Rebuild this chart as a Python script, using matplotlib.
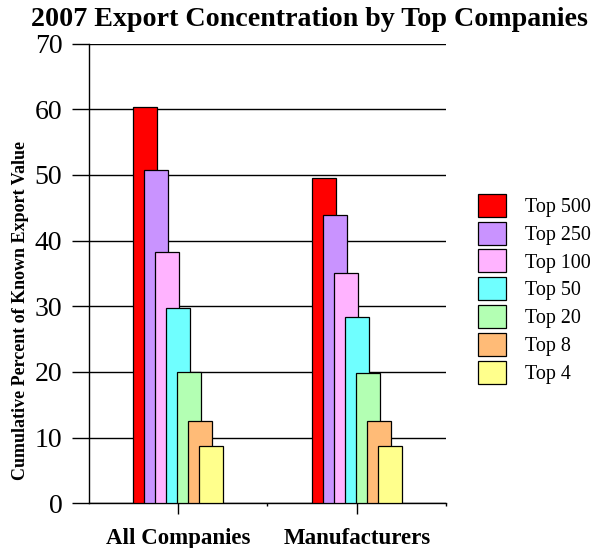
import matplotlib
matplotlib.use("Agg")
import matplotlib.pyplot as plt
import numpy as np

categories = ["All Companies", "Manufacturers"]
series = ["Top 500", "Top 250", "Top 100", "Top 50", "Top 20", "Top 8", "Top 4"]
all_companies = [60.3, 50.7, 38.3, 29.8, 20.0, 12.6, 8.7]
manufacturers = [49.6, 43.9, 35.1, 28.3, 19.8, 12.6, 8.7]
colors = ["#FF0000", "#C993FF", "#FFB3FF", "#6FFFFF", "#B3FFB3", "#FFBB77", "#FFFF8C"]
yticks = [0, 10, 20, 30, 40, 50, 60, 70]

plt.rcParams['font.family'] = ['Liberation Serif', 'DejaVu Serif']

fig = plt.figure(figsize=(5.92, 5.48), dpi=100)
ax = fig.add_axes([0.1503, 0.0816, 0.6031, 0.839])

x = np.arange(len(categories))
width = 0.135
stride = 0.0618
n = len(series)
handles = []
for i in range(n):
    vals = [all_companies[i], manufacturers[i]]
    off = (i - (n - 1) / 2) * stride
    b = ax.bar(x + off, vals, width=width, color=colors[i], edgecolor="black",
               linewidth=0.9, zorder=3 + i, label=series[i])
    handles.append(b)

ax.set_xlim(-0.5, 1.5)
ax.set_ylim(0, 70)
ax.set_yticks(yticks)
ax.set_yticklabels([str(t) for t in yticks], fontsize=20)
ax.yaxis.grid(True, color="black", linewidth=1, zorder=0)
ax.set_axisbelow(True)
ax.tick_params(axis='y', length=12.2, width=1, color="black", pad=7)
ax.set_xticks(x)
ax.set_xticklabels(categories, fontsize=16.5, fontweight="bold")
ax.set_xticks([0.5, 1.5], minor=True)
ax.tick_params(axis='x', which='major', length=8, width=1, pad=10)
ax.tick_params(axis='x', which='minor', length=2, width=1)
for s in ["top", "right"]:
    ax.spines[s].set_visible(False)
ax.spines["left"].set_linewidth(1)
ax.spines["bottom"].set_linewidth(1)

ax.set_ylabel("Cumulative Percent of Known Export Value", fontsize=13,
              fontweight="bold")
ax.yaxis.set_label_coords(-0.167, 0.42)

fig.suptitle("2007 Export Concentration by Top Companies", fontsize=20.2,
             fontweight="bold", x=0.522, y=0.987)

leg = fig.legend(handles=handles, labels=series, loc="upper left",
                 bbox_to_anchor=(0.8074, 0.6465), frameon=False, fontsize=14.4,
                 handlelength=1.4, handleheight=1.4, labelspacing=0.23,
                 handletextpad=0.95, borderaxespad=0, borderpad=0)

fig.savefig("out.png", dpi=100)
